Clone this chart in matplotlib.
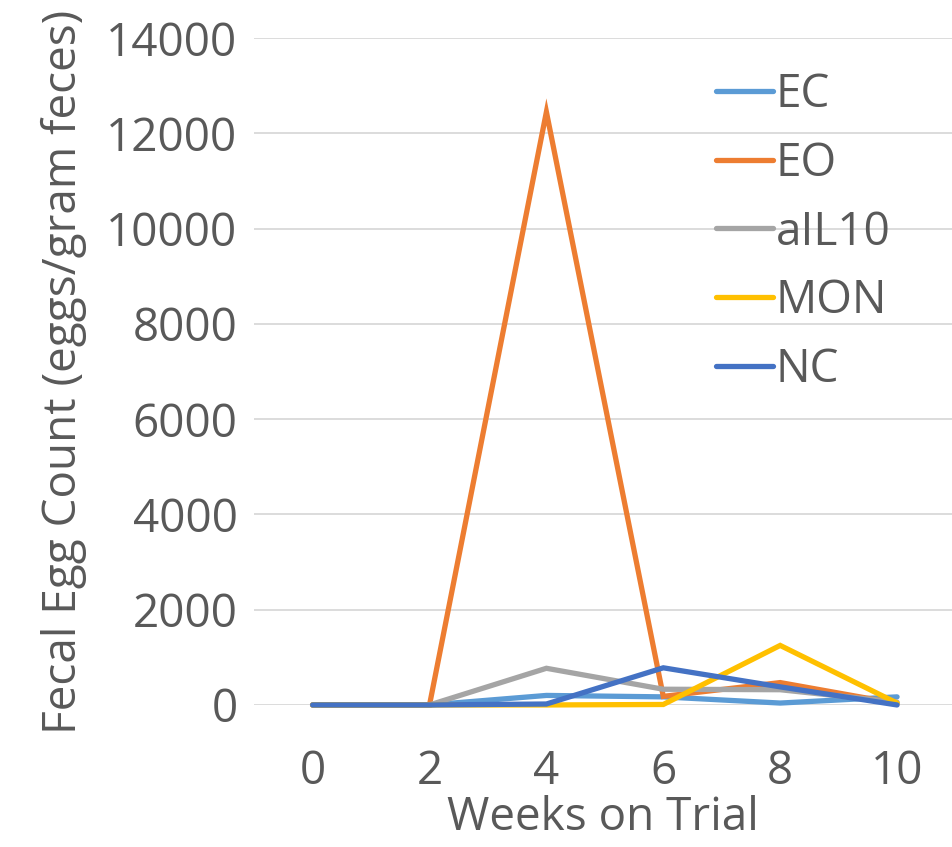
import matplotlib.pyplot as plt

plt.rcParams['font.family'] = ['Open Sans', 'DejaVu Sans']

# Fecal egg counts per treatment group over the trial
weeks = [0, 2, 4, 6, 8, 10]
ec = [0, 0, 200, 170, 40, 170]
eo = [0, 0, 12450, 180, 470, 30]
ail10 = [0, 0, 770, 330, 320, 60]
mon = [0, 0, 0, 10, 1250, 40]
nc = [0, 0, 20, 780, 380, 0]

series = [
    ('EC', ec, '#5B9BD5'),
    ('EO', eo, '#ED7D31'),
    ('aIL10', ail10, '#A5A5A5'),
    ('MON', mon, '#FFC000'),
    ('NC', nc, '#4472C4'),
]

text_color = '#595959'
fs = 33

fig = plt.figure(figsize=(9.52, 8.47), dpi=100)
ax = fig.add_axes([0.267, 0.1677, 0.733, 0.7873])

for name, vals, color in series:
    ax.plot(weeks, vals, color=color, linewidth=3.8, label=name,
            solid_capstyle='round', solid_joinstyle='miter', clip_on=False, zorder=3)

ax.set_xlim(-1, 10.94)
ax.set_ylim(0, 14000)
ax.set_xticks(weeks)
ax.set_yticks(range(0, 14001, 2000))
ax.grid(axis='y', color='#D9D9D9', linewidth=1.3)
ax.set_axisbelow(True)
for s in ax.spines.values():
    s.set_visible(False)
ax.tick_params(length=0, labelsize=fs, labelcolor=text_color, pad=12)
ax.tick_params(axis='x', pad=32)

ax.set_xlabel('Weeks on Trial', fontsize=fs, color=text_color, labelpad=0)
ax.set_ylabel('Fecal Egg Count (eggs/gram feces)', fontsize=fs, color=text_color, labelpad=14)

leg = ax.legend(loc='upper left', bbox_to_anchor=(0.733, 0.937), bbox_transform=fig.transFigure,
                frameon=False, fontsize=fs, handlelength=1.25, handletextpad=0.05,
                labelspacing=0.5, borderaxespad=0)
for t in leg.get_texts():
    t.set_color(text_color)

fig.savefig('out.png', dpi=100)
